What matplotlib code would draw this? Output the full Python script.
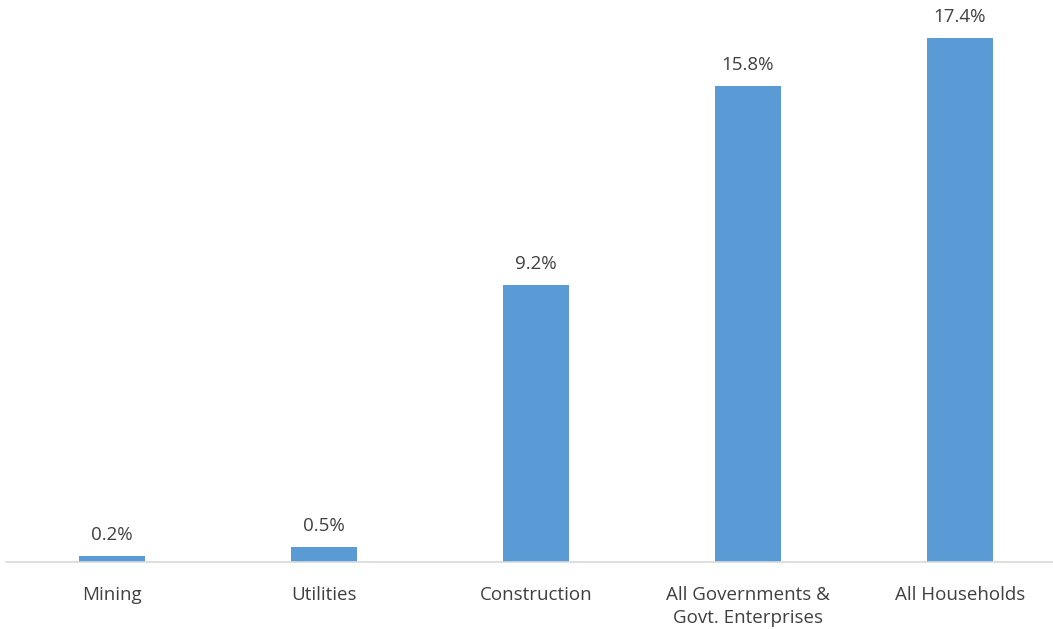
import matplotlib
matplotlib.use("Agg")
import matplotlib.pyplot as plt

categories = ["Mining", "Utilities", "Construction",
              "All Governments &\nGovt. Enterprises", "All Households"]
values = [0.2, 0.5, 9.2, 15.8, 17.4]
labels = ["0.2%", "0.5%", "9.2%", "15.8%", "17.4%"]

plt.rcParams["font.family"] = ["Open Sans", "DejaVu Sans"]

fig = plt.figure(figsize=(10.53, 6.29), dpi=100)
ax = fig.add_axes([6 / 1053, 1 - 562 / 629, 1 - 6 / 1053, 562 / 629])

x = list(range(len(categories)))
ax.bar(x, values, width=0.31, color="#5B9BD5")

for xi, v, lab in zip(x, values, labels):
    ax.text(xi, v + 0.4, lab, ha="center", va="bottom",
            fontsize=13.5, color="#404040")

ax.set_xlim(-0.5, 4.44)
ax.set_ylim(0, 18.67)
ax.set_xticks(x)
ax.set_xticklabels(categories, fontsize=13.5, color="#404040", linespacing=1.35)
ax.tick_params(axis="x", length=0, pad=17)
ax.set_yticks([])

for side in ["top", "right", "left"]:
    ax.spines[side].set_visible(False)
ax.spines["bottom"].set_color("#D9D9D9")
ax.spines["bottom"].set_linewidth(1.2)

fig.savefig("out.png", dpi=100)
